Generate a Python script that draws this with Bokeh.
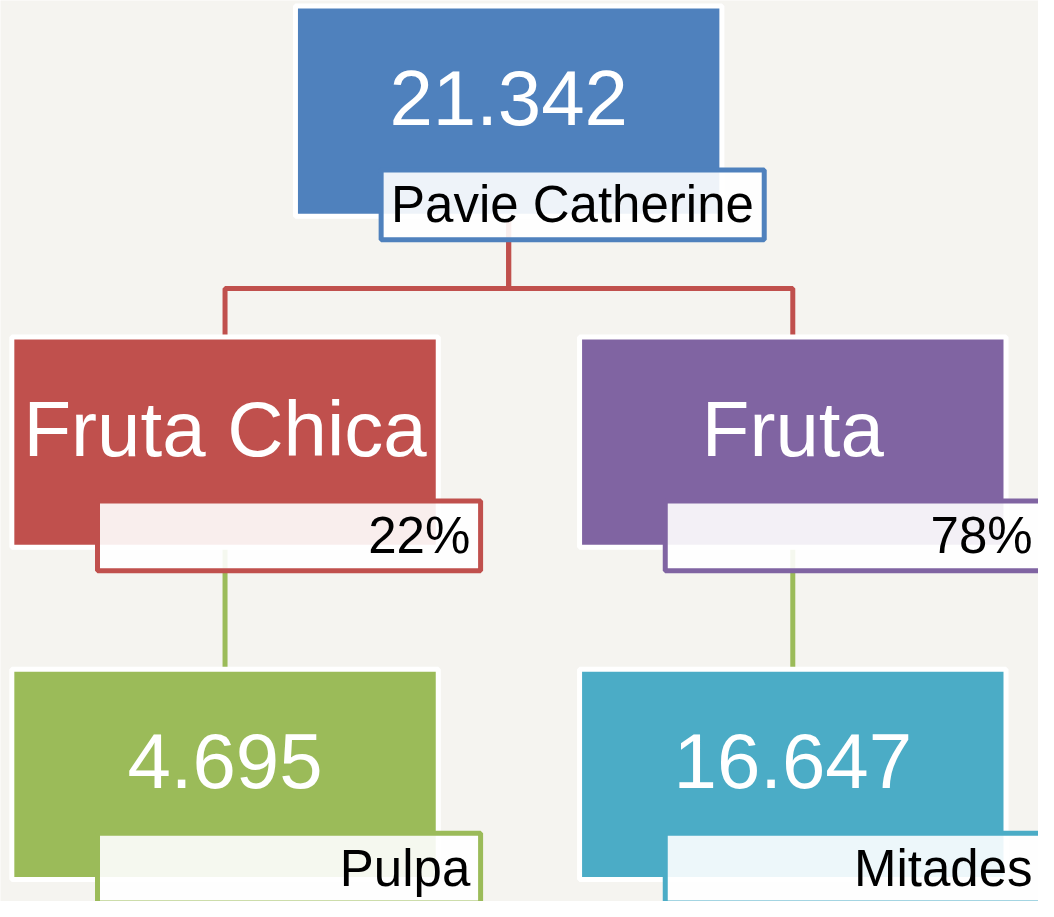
from bokeh.plotting import figure
from bokeh.models import Range1d
from bokeh.embed import file_html
from bokeh.resources import INLINE
from bokeh.core.properties import value

# ---- data ----
node_values = ["21.342", "Fruta Chica", "Fruta", "4.695", "16.647"]
node_labels = ["Pavie Catherine", "22%", "78%", "Pulpa", "Mitades"]
node_colors = ["#4F81BD", "#C0504D", "#8064A2", "#9BBB59", "#4BACC6"]
node_parent = [-1, 0, 0, 1, 2]
connector_colors = [None, "#C0504D", "#C0504D", "#9BBB59", "#9BBB59"]

# ---- layout (reference pixel coordinates) ----
cx = [516, 228, 804.5, 228, 804.5]
top = [8, 345, 345, 683, 683]
W, H = 428, 209
BG = "#F5F4F0"
VIEW_W, VIEW_H = 1054, 917

p = figure(width=1038, height=901, x_range=Range1d(0, VIEW_W), y_range=Range1d(VIEW_H, 0),
           toolbar_location=None, output_backend="svg", min_border=0)
p.axis.visible = False
p.grid.visible = False
p.outline_line_color = None
p.background_fill_color = BG
p.border_fill_color = BG

# connectors
xs, ys, cols = [], [], []
for i, par in enumerate(node_parent):
    if par < 0:
        continue
    pb = top[par] + H
    ct = top[i]
    elbow = ct - 52
    xs.append([cx[par], cx[par], cx[i], cx[i]])
    ys.append([pb, elbow, elbow, ct])
    cols.append(connector_colors[i])
p.multi_line(xs=xs, ys=ys, line_color=cols, line_width=5)

# boxes
left = [c - W / 2 for c in cx]
right = [c + W / 2 for c in cx]
bottom = [t + H for t in top]
p.quad(left=[l - 2.5 for l in left], right=[r + 2.5 for r in right],
       top=[t - 2.5 for t in top], bottom=[b + 2.5 for b in bottom],
       fill_color=node_colors, line_color="white", line_width=5)

# value text
p.text(x=cx, y=[t + 120 - 29 for t in top], text=node_values,
       text_font=value("Liberation Sans"), text_font_size="78px", text_color="white",
       text_align="center", text_baseline="alphabetic")

# label boxes
LW, LH = 394, 76
ll = [l + 82 for l in left]
lt = [b - 47 for b in bottom]
p.quad(left=[l + 2.5 for l in ll], right=[l + LW - 2.5 for l in ll],
       top=[t + 2.5 for t in lt], bottom=[t + LH - 2.5 for t in lt],
       fill_color="white", fill_alpha=0.9, line_color=node_colors, line_width=5)
p.text(x=[min(l + LW - 13, VIEW_W - 6) for l in ll], y=[t + 58 - 20 for t in lt], text=node_labels,
       text_font=value("Liberation Sans"), text_font_size="51px", text_color="black",
       text_align="right", text_baseline="alphabetic")

open("out.html", "w").write(file_html(p, INLINE))
